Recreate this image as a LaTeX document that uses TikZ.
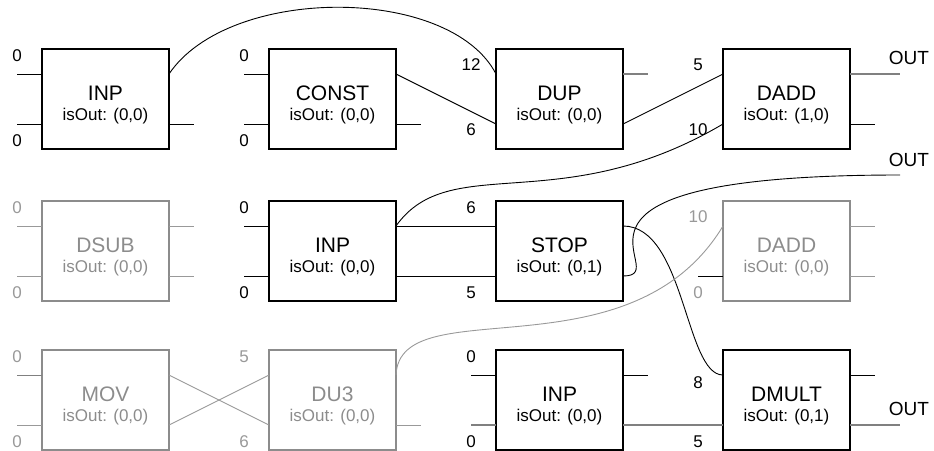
\documentclass[tikz,border=0pt]{standalone}
\usepackage{fontspec}
\setmainfont{Liberation Sans}
\usetikzlibrary{positioning,calc}
\definecolor{boxgray}{HTML}{8C8C8C}
\definecolor{wiregray}{HTML}{999999}
\definecolor{stubgray}{HTML}{808080}
\newcommand{\optext}[2]{#1\\{\fontsize{17}{20}\selectfont isOut: #2}}

\begin{document}
\begin{tikzpicture}[
	x=1pt, y=-1pt,
	opbox/.style={draw,line width=2pt,minimum width=127pt,minimum height=100pt,inner sep=0pt,outer sep=0pt,
		align=center,text height=45pt,text depth=3pt,font=\fontsize{21}{20}\selectfont},
	offbox/.style={opbox,draw=boxgray,text=boxgray},
	wire/.style={line width=0.9pt},
	dimwire/.style={line width=0.9pt,draw=wiregray},
	outwire/.style={line width=2pt,draw=stubgray},
	portlbl/.style={font=\fontsize{17}{17}\selectfont,inner sep=0pt},
	offlbl/.style={portlbl,text=wiregray},
	outlbl/.style={font=\fontsize{19}{19}\selectfont,inner sep=0pt}
	]
	\useasboundingbox (0,0) rectangle (934,450);
	
	% first row
	\node[opbox] (inpA) at (105.5,99) {\optext{INP}{(0,0)}};
	\node[opbox,right=100pt of inpA] (const) {\optext{CONST}{(0,0)}};
	\node[opbox,right=100pt of const] (dupA) {\optext{DUP}{(0,0)}};
	\node[opbox,right=100pt of dupA] (daddA) {\optext{DADD}{(1,0)}};
	
	% second row
	\node[offbox,below=52pt of inpA] (dsub) {\optext{DSUB}{(0,0)}};
	\node[opbox,right=100pt of dsub] (inpB) {\optext{INP}{(0,0)}};
	\node[opbox,right=100pt of inpB] (stop) {\optext{STOP}{(0,1)}};
	\node[offbox,right=100pt of stop] (daddB) {\optext{DADD}{(0,0)}};
	
	% third row
	\node[offbox,below=49pt of dsub] (mov) {\optext{MOV}{(0,0)}};
	\node[offbox,right=100pt of mov] (duthree) {\optext{DU3}{(0,0)}};
	\node[opbox,right=100pt of duthree] (inpC) {\optext{INP}{(0,0)}};
	\node[opbox,right=100pt of inpC] (dmult) {\optext{DMULT}{(0,1)}};
	
	% ports: two inputs on the left, two outputs on the right
	\foreach \n in {inpA,const,dupA,daddA,dsub,inpB,stop,daddB,mov,duthree,inpC,dmult}{
		\coordinate (\n-i1) at ($(\n.north west)+(0,25)$);
		\coordinate (\n-i2) at ($(\n.north west)+(0,75)$);
		\coordinate (\n-o1) at ($(\n.north east)+(0,25)$);
		\coordinate (\n-o2) at ($(\n.north east)+(0,75)$);
	}
	\coordinate (stopout) at (900,175);
	
	% open ports
	\foreach \p in {inpA-i1,inpA-i2,const-i1,const-i2,inpB-i1,inpB-i2,daddB-i2,inpC-i1}
		\draw[wire] (\p) -- ++(-25,0);
	\foreach \p in {inpA-o2,const-o2,daddA-o2,inpC-o1,dmult-o1}
		\draw[wire] (\p) -- ++(25,0);
	\foreach \p in {dsub-i1,dsub-i2,mov-i2}
		\draw[dimwire] (\p) -- ++(-25,0);
	\foreach \p in {dsub-o1,dsub-o2,daddB-o1,daddB-o2,duthree-o2}
		\draw[dimwire] (\p) -- ++(25,0);
	\draw[wire,draw=stubgray] (mov-i1) -- ++(-25,0);
	\draw[outwire] (dupA-o1) -- ++(25,0);
	\draw[outwire] (inpC-i2) -- ++(-25,0);
	\draw[outwire] (daddA-o1) -- ++(50,0);
	\draw[outwire] (dmult-o2) -- ++(50,0);
	
	% connections
	\draw[wire] (inpA-o1) .. controls +(60,-89) and +(-46,-89) .. (dupA-i1);
	\draw[wire] (const-o1) -- (dupA-i2);
	\draw[wire] (dupA-o2) -- (daddA-i1);
	\draw[wire] (inpB-o1) .. controls +(54,-76) and +(-163,96) .. (daddA-i2);
	\draw[wire] (inpB-o1) -- (stop-i1);
	\draw[wire] (inpB-o2) -- (stop-i2);
	\draw[wire] (stop-o1) .. controls +(62,0) and +(-38,0) .. (dmult-i1);
	\draw[wire] (stop-o2) .. controls +(57,0) and +(-390,0) .. (stopout);
	\draw[dimwire] (mov-o1) -- (duthree-i2);
	\draw[dimwire] (mov-o2) -- (duthree-i1);
	\draw[dimwire] (duthree-o1) .. controls +(4,-87) and +(-93,154) .. (daddB-i1);
	\draw[outwire] (inpC-o2) -- (dmult-i2);
	
	% port values
	\foreach \n in {inpA,const,inpB,inpC}{
		\node[portlbl] (\n-v1) at ($(\n-i1)+(-25,-18)$) {0};
		\node[portlbl] (\n-v2) at ($(\n-i2)+(-25,17)$) {0};
	}
	\foreach \n in {dsub,mov}{
		\node[offlbl] (\n-v1) at ($(\n-i1)+(-25,-18)$) {0};
		\node[offlbl] (\n-v2) at ($(\n-i2)+(-25,17)$) {0};
	}
	\node[portlbl] (dupA-v1) at ($(dupA-i1)+(-25,-9)$) {12};
	\node[portlbl] (dupA-v2) at ($(dupA-i2)+(-25,6)$) {6};
	\node[portlbl] (daddA-v1) at ($(daddA-i1)+(-25,-9)$) {5};
	\node[portlbl] (daddA-v2) at ($(daddA-i2)+(-25,6)$) {10};
	\node[portlbl] (stop-v1) at ($(stop-i1)+(-25,-18)$) {6};
	\node[portlbl] (stop-v2) at ($(stop-i2)+(-25,17)$) {5};
	\node[offlbl] (daddB-v1) at ($(daddB-i1)+(-25,-9)$) {10};
	\node[offlbl] (daddB-v2) at ($(daddB-i2)+(-25,17)$) {0};
	\node[offlbl] (duthree-v1) at ($(duthree-i1)+(-25,-18)$) {5};
	\node[offlbl] (duthree-v2) at ($(duthree-i2)+(-25,17)$) {6};
	\node[portlbl] (dmult-v1) at ($(dmult-i1)+(-25,8)$) {8};
	\node[portlbl] (dmult-v2) at ($(dmult-i2)+(-25,17)$) {5};
	
	% outputs
	\node[outlbl] (outA) at ($(daddA-o1)+(59,-16)$) {OUT};
	\node[outlbl] (outB) at ($(stopout)+(9,-15)$) {OUT};
	\node[outlbl] (outC) at ($(dmult-o2)+(59,-16)$) {OUT};
	
\end{tikzpicture}
\end{document}
